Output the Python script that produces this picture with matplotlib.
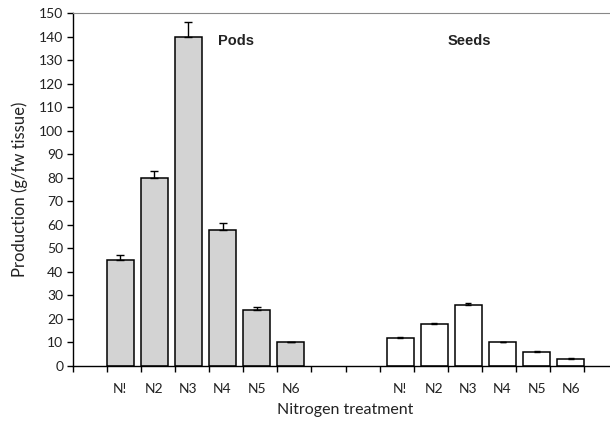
import matplotlib
matplotlib.use("Agg")
import matplotlib.pyplot as plt
import numpy as np

categories = ["N!", "N2", "N3", "N4", "N5", "N6"]
pods = [45, 80, 140, 58, 24, 10]
pods_err = [2, 3, 6, 2.7, 1, 0.3]
seeds = [12, 18, 26, 10, 6, 2.8]
seeds_err = [0.5, 0.4, 0.8, 0.2, 0.2, 0.4]
yticks = list(range(0, 151, 10))

plt.rcParams['font.family'] = ['Lato', 'DejaVu Sans']

fig = plt.figure(figsize=(6.10, 4.21), dpi=100)
ax = fig.add_axes([73/610, 55/421, (618-73)/610, (366-13)/421])

w = 0.78
pods_x = np.arange(1, 7) + w/2
seeds_x = np.arange(10, 16) - w/2

ax.bar(pods_x, pods, width=w, color="#d3d3d3", edgecolor="black", linewidth=1.1, zorder=2)
ax.errorbar(pods_x, pods, yerr=[[0]*6, pods_err], fmt='none', ecolor="black",
            elinewidth=1, capsize=3, capthick=1, zorder=3)
ax.bar(seeds_x, seeds, width=w, color="white", edgecolor="black", linewidth=1.1, zorder=2)
ax.errorbar(seeds_x, seeds, yerr=[[0]*6, seeds_err], fmt='none', ecolor="black",
            elinewidth=1, capsize=2.5, capthick=1, zorder=3)

ax.set_xlim(0, 16)
ax.set_ylim(0, 150)
ax.set_yticks(yticks)
ax.set_yticklabels([str(v) for v in yticks], fontsize=10, color="#222222")

ax.set_xticks(list(pods_x) + list(seeds_x))
ax.set_xticklabels(categories + categories, fontsize=10, color="#222222")
ax.set_xticks(np.arange(0, 17), minor=True)
ax.tick_params(axis='x', which='major', length=0, pad=12)
ax.tick_params(axis='x', which='minor', length=4, width=1, direction='out')
ax.tick_params(axis='y', length=4, width=1, direction='out', pad=3)

ax.spines['right'].set_visible(False)
ax.spines['top'].set_color("#888888")
ax.spines['top'].set_linewidth(0.8)
ax.spines['left'].set_linewidth(1)
ax.spines['bottom'].set_linewidth(1)

ax.text(4.25, 138, "Pods", fontsize=10.5, fontweight='bold', family='Liberation Sans',
        va='center', ha='left', color="#222222")
ax.text(11.0, 138, "Seeds", fontsize=10.5, fontweight='bold', family='Liberation Sans',
        va='center', ha='left', color="#222222")

ax.set_ylabel("Production (g/fw tissue)", fontsize=12, color="#222222", labelpad=8)
ax.set_xlabel("Nitrogen treatment", fontsize=11.5, color="#222222", labelpad=6)

fig.savefig("out.png", dpi=100)
